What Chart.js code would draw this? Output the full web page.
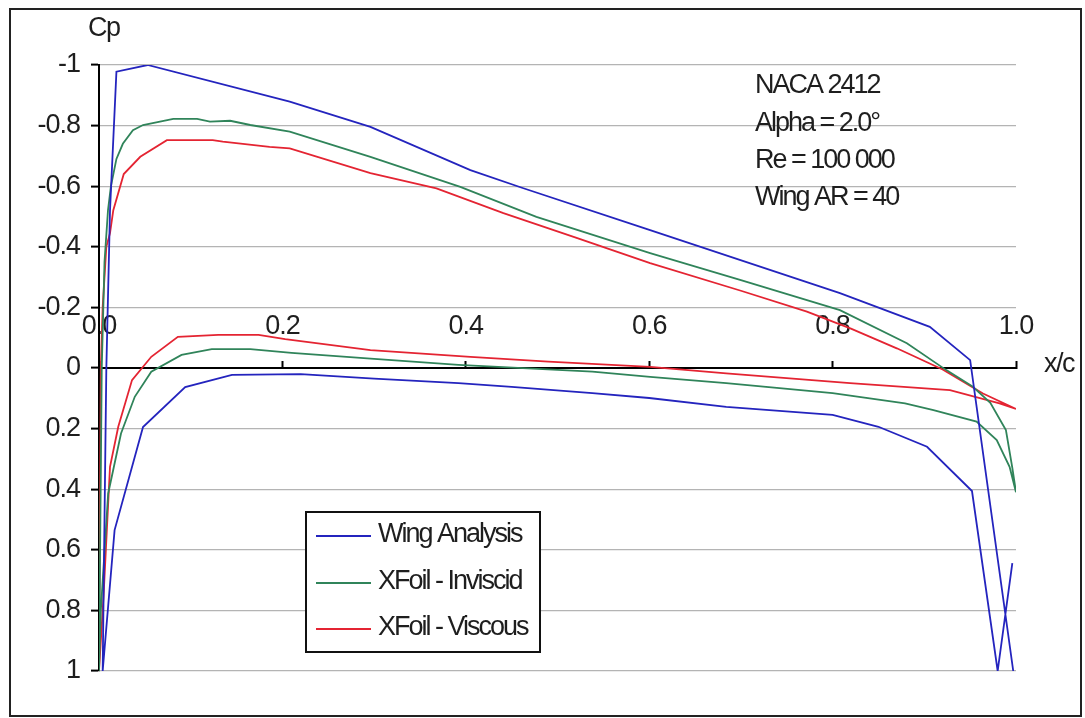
<!DOCTYPE html>
<html>
<head>
<meta charset="utf-8">
<script src="https://cdn.jsdelivr.net/npm/chart.js@4.4.1/dist/chart.umd.min.js"></script>
<style>
  html, body { margin: 0; padding: 0; background: #fff; }
</style>
</head>
<body>
<canvas id="cpChart" width="1085" height="718"></canvas>
<script>
const xTicks = [0, 0.2, 0.4, 0.6, 0.8, 1.0];
const xTickLabels = ["0.0", "0.2", "0.4", "0.6", "0.8", "1.0"];
const yTicks = [-1, -0.8, -0.6, -0.4, -0.2, 0, 0.2, 0.4, 0.6, 0.8, 1];
const yTickLabels = ["-1", "-0.8", "-0.6", "-0.4", "-0.2", "0", "0.2", "0.4", "0.6", "0.8", "1"];

const seriesNames = ["Wing Analysis", "XFoil - Inviscid", "XFoil - Viscous"];
const infoLines = ["NACA 2412", "Alpha = 2.0°", "Re = 100 000", "Wing AR = 40"];

// Wing Analysis: one trace, lower surface TE -> LE, then upper surface LE -> TE
const wingX = [0.996, 0.980, 0.952, 0.903, 0.850, 0.800, 0.684, 0.600, 0.538, 0.450, 0.392, 0.300, 0.220, 0.145, 0.094, 0.048, 0.017, 0.004,
               0.008, 0.012, 0.019, 0.053, 0.208, 0.296, 0.405, 0.462, 0.601, 0.808, 0.906, 0.950, 0.997];
const wingCp = [0.644, 1.0, 0.406, 0.26, 0.194, 0.155, 0.128, 0.099, 0.083, 0.062, 0.05, 0.035, 0.02, 0.023, 0.063, 0.195, 0.535, 1.0,
                0.0, -0.52, -0.978, -1.0, -0.879, -0.796, -0.653, -0.594, -0.455, -0.247, -0.136, -0.026, 1.0];

// XFoil inviscid: upper TE -> LE, lower LE -> TE
const invUpperX = [1.0, 0.996, 0.989, 0.972, 0.953, 0.924, 0.881, 0.808, 0.700, 0.601, 0.477, 0.394, 0.296, 0.208, 0.165, 0.143,
                   0.121, 0.107, 0.081, 0.048, 0.037, 0.026, 0.019, 0.013, 0.0098, 0.006, 0.003, 0.0];
const invUpperCp = [0.41, 0.33, 0.205, 0.115, 0.062, 0.007, -0.082, -0.191, -0.29, -0.379, -0.499, -0.598, -0.697, -0.780, -0.802, -0.816,
                    -0.813, -0.822, -0.822, -0.802, -0.785, -0.74, -0.69, -0.6, -0.52, -0.35, 0.0, 1.0];
const invLowerX = [0.002, 0.010, 0.024, 0.039, 0.057, 0.090, 0.123, 0.165, 0.210, 0.300, 0.392, 0.538, 0.601, 0.684, 0.800, 0.879,
                   0.910, 0.957, 0.979, 0.993, 1.0];
const invLowerCp = [0.8, 0.414, 0.216, 0.095, 0.012, -0.043, -0.062, -0.062, -0.05, -0.03, -0.01, 0.012, 0.029, 0.05, 0.083, 0.117,
                    0.139, 0.177, 0.238, 0.326, 0.41];

// XFoil viscous: upper TE -> LE, lower LE -> TE
const visUpperX = [1.0, 0.964, 0.920, 0.870, 0.820, 0.772, 0.700, 0.601, 0.520, 0.441, 0.368, 0.296, 0.208, 0.186, 0.135, 0.124,
                   0.074, 0.045, 0.027, 0.0156, 0.012, 0.008, 0.004, 0.002, 0.0];
const visUpperCp = [0.135, 0.084, 0.005, -0.065, -0.13, -0.186, -0.255, -0.346, -0.43, -0.511, -0.593, -0.643, -0.725, -0.730, -0.747, -0.752,
                    -0.752, -0.697, -0.64, -0.521, -0.445, -0.40, -0.2, 0.0, 1.0];
const visLowerX = [0.005, 0.012, 0.021, 0.036, 0.057, 0.086, 0.130, 0.174, 0.203, 0.296, 0.405, 0.490, 0.601, 0.684, 0.819, 0.928,
                   0.982, 1.0];
const visLowerCp = [0.75, 0.326, 0.194, 0.04, -0.037, -0.103, -0.109, -0.109, -0.095, -0.059, -0.037, -0.021, -0.004, 0.018, 0.05, 0.073,
                    0.117, 0.135];

const toPoints = (xs, ys) => xs.map((x, i) => ({ x: x, y: ys[i] }));

const FONT = "'Liberation Sans', Arial, sans-serif";
const TEXT_COLOR = "#1e1e1e";

const decor = {
    id: "decor",
    beforeDraw(chart) {
        const ctx = chart.ctx;
        ctx.save();
        ctx.fillStyle = "#fff";
        ctx.fillRect(0, 0, chart.width, chart.height);
        ctx.restore();
        ctx.letterSpacing = "-1px";
    },
    afterDraw(chart) {
        const ctx = chart.ctx;
        ctx.save();
        ctx.fillStyle = TEXT_COLOR;
        ctx.font = "27px " + FONT;
        ctx.textBaseline = "alphabetic";
        ctx.textAlign = "left";
        ctx.letterSpacing = "-1.5px";
        ctx.fillText("Cp", 88, 36);
        ctx.fillText("x/c", 1044, 372);

        // parameters block
        ctx.letterSpacing = "-2px";
        const infoBase = [93, 131, 168, 205];
        infoLines.forEach((t, i) => ctx.fillText(t, 755, infoBase[i]));

        // legend box
        ctx.fillStyle = "#fff";
        ctx.fillRect(306, 512, 234, 140);
        ctx.strokeStyle = "#111";
        ctx.lineWidth = 2;
        ctx.strokeRect(306, 512, 234, 140);
        const rows = [536, 583, 629];
        chart.data.datasets.forEach((ds, i) => {
            ctx.strokeStyle = ds.borderColor;
            ctx.lineWidth = 1.8;
            ctx.beginPath();
            ctx.moveTo(316, rows[i]);
            ctx.lineTo(371, rows[i]);
            ctx.stroke();
            ctx.fillStyle = TEXT_COLOR;
            ctx.fillText(ds.label, 378, rows[i] + 6);
        });

        // outer frame
        ctx.strokeStyle = "#222";
        ctx.lineWidth = 2;
        ctx.strokeRect(10, 9, 1071, 707);
        ctx.restore();
    }
};

const lineStyle = { showLine: true, pointRadius: 0, borderWidth: 1.8, tension: 0, fill: false };

new Chart(document.getElementById("cpChart"), {
    type: "scatter",
    data: {
        datasets: [
            Object.assign({ label: seriesNames[0], data: toPoints(wingX, wingCp), borderColor: "rgb(36, 36, 190)" }, lineStyle),
            Object.assign({ label: seriesNames[1], data: toPoints(invUpperX.concat(invLowerX), invUpperCp.concat(invLowerCp)), borderColor: "rgb(48, 132, 90)" }, lineStyle),
            Object.assign({ label: seriesNames[2], data: toPoints(visUpperX.concat(visLowerX), visUpperCp.concat(visLowerCp)), borderColor: "rgb(228, 36, 50)" }, lineStyle)
        ]
    },
    options: {
        responsive: false,
        animation: false,
        layout: { padding: { left: 0, right: 69, top: 65, bottom: 47 } },
        plugins: { legend: { display: false }, tooltip: { enabled: false } },
        scales: {
            x: {
                type: "linear",
                min: 0,
                max: 1,
                position: { y: 0 },
                afterBuildTicks: (s) => { s.ticks = xTicks.map((v) => ({ value: v })); },
                ticks: {
                    callback: (v, i) => xTickLabels[i],
                    color: TEXT_COLOR,
                    font: { family: FONT, size: 27 },
                    padding: -50,
                    maxRotation: 0,
                    autoSkip: false
                },
                grid: { drawOnChartArea: false, tickLength: -8, tickColor: "#000", tickWidth: 2 },
                border: { color: "#000", width: 2 }
            },
            y: {
                type: "linear",
                min: -1,
                max: 1,
                reverse: true,
                position: "left",
                afterBuildTicks: (s) => { s.ticks = yTicks.map((v) => ({ value: v })); },
                afterFit: (s) => { s.width = 99; },
                ticks: {
                    callback: (v, i) => yTickLabels[i],
                    color: TEXT_COLOR,
                    font: { family: FONT, size: 27 },
                    padding: 11,
                    autoSkip: false
                },
                grid: {
                    color: (c) => (c.tick && c.tick.value === 0 ? "rgba(0,0,0,0)" : "#b4b4b4"),
                    lineWidth: 1.2,
                    tickLength: 8,
                    tickColor: "#000",
                    tickWidth: 2
                },
                border: { color: "#000", width: 2 }
            }
        }
    },
    plugins: [decor]
});
</script>
</body>
</html>
